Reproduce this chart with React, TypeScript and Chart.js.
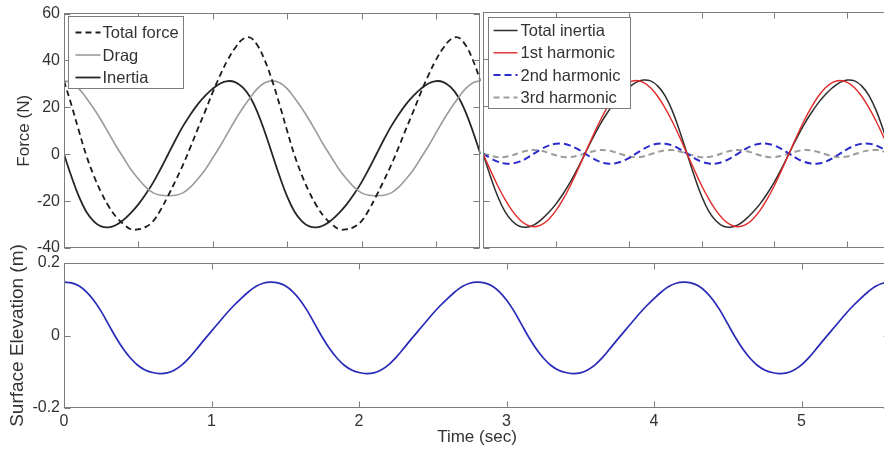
import React, { useEffect, useRef } from "react";
import { Chart, registerables } from "chart.js";

Chart.register(...registerables);

// ---------- DATA ----------
const timeTop = [
  0, 0.05, 0.1, 0.15, 0.2, 0.25, 0.3, 0.35, 0.4, 0.45, 0.5, 0.55, 0.6, 0.65, 0.7, 0.75, 0.8, 0.85, 0.9, 0.95,
  1, 1.05, 1.1, 1.15, 1.2, 1.25, 1.3, 1.35, 1.4, 1.45, 1.5, 1.55, 1.6, 1.65, 1.7, 1.75, 1.8, 1.85, 1.9, 1.95,
  2, 2.05, 2.1, 2.15, 2.2, 2.25, 2.3, 2.35, 2.4, 2.45, 2.5, 2.55, 2.6, 2.65, 2.7, 2.75, 2.8,
];

const totalForce = [
  31.3, 21, 10, -0.5, -9.1, -16.3, -22.2, -26.7, -29.8, -32, -32, -31, -28.5, -23.7, -17.7, -11.3, -4.5, 3, 10.9, 18.5,
  26.5, 33.7, 40.2, 45.3, 49, 49.8, 46.5, 40, 31.3,
  21, 10, -0.5, -9.1, -16.3, -22.2, -26.7, -29.8, -32, -32, -31, -28.5, -23.7, -17.7, -11.3, -4.5, 3, 10.9, 18.5,
  26.5, 33.7, 40.2, 45.3, 49, 49.8, 46.5, 40, 31.3,
];

const drag = [
  31.3, 30.5, 28, 24, 19.5, 14.5, 9, 3.5, -1.5, -6.5, -10.5, -14, -16.5, -17.5, -17.7, -17.5, -16.5, -14, -10.5, -6.5,
  -1.5, 3.5, 9, 14.5, 19.5, 24, 28, 30.5, 31.3,
  30.5, 28, 24, 19.5, 14.5, 9, 3.5, -1.5, -6.5, -10.5, -14, -16.5, -17.5, -17.7, -17.5, -16.5, -14, -10.5, -6.5,
  -1.5, 3.5, 9, 14.5, 19.5, 24, 28, 30.5, 31.3,
];

const inertia = [
  0, -9.5, -18, -24.5, -28.6, -30.8, -31.2, -30.2, -28, -25, -21.4, -17, -12, -6.2, 0, 6.2, 12, 17, 21.4, 25,
  28, 30.2, 31.2, 30.8, 28.6, 24.5, 18, 9.5, 0,
  -9.5, -18, -24.5, -28.6, -30.8, -31.2, -30.2, -28, -25, -21.4, -17, -12, -6.2, 0, 6.2, 12, 17, 21.4, 25,
  28, 30.2, 31.2, 30.8, 28.6, 24.5, 18, 9.5, 0,
];

const totalInertia = [
  0, -9.5, -18, -24.5, -28.6, -30.8, -31.2, -30.2, -28, -25, -21.4, -17, -12, -6.2, 0, 6.2, 12, 17, 21.4, 25,
  28, 30.2, 31.2, 30.8, 28.6, 24.5, 18, 9.5, 0,
  -9.5, -18, -24.5, -28.6, -30.8, -31.2, -30.2, -28, -25, -21.4, -17, -12, -6.2, 0, 6.2, 12, 17, 21.4, 25,
  28, 30.2, 31.2, 30.8, 28.6, 24.5, 18, 9.5, 0,
];

const harmonic1 = [
  0, -6.9, -13.5, -19.3, -24.2, -27.9, -30.2, -31, -30.2, -27.9, -24.2, -19.3, -13.5, -6.9, 0, 6.9, 13.5, 19.3, 24.2, 27.9,
  30.2, 31, 30.2, 27.9, 24.2, 19.3, 13.5, 6.9, 0,
  -6.9, -13.5, -19.3, -24.2, -27.9, -30.2, -31, -30.2, -27.9, -24.2, -19.3, -13.5, -6.9, 0, 6.9, 13.5, 19.3, 24.2, 27.9,
  30.2, 31, 30.2, 27.9, 24.2, 19.3, 13.5, 6.9, 0,
];

const harmonic2 = [
  0, -1.9, -3.4, -4.2, -4.2, -3.4, -1.9, 0, 1.9, 3.4, 4.2, 4.2, 3.4, 1.9, 0, -1.9, -3.4, -4.2, -4.2, -3.4,
  -1.9, 0, 1.9, 3.4, 4.2, 4.2, 3.4, 1.9, 0,
  -1.9, -3.4, -4.2, -4.2, -3.4, -1.9, 0, 1.9, 3.4, 4.2, 4.2, 3.4, 1.9, 0, -1.9, -3.4, -4.2, -4.2, -3.4,
  -1.9, 0, 1.9, 3.4, 4.2, 4.2, 3.4, 1.9, 0,
];

const harmonic3 = [
  0, -0.9, -1.5, -1.4, -0.7, 0.3, 1.2, 1.5, 1.2, 0.3, -0.7, -1.4, -1.5, -0.9, 0, 0.9, 1.5, 1.4, 0.7, -0.3,
  -1.2, -1.5, -1.2, -0.3, 0.7, 1.4, 1.5, 0.9, 0,
  -0.9, -1.5, -1.4, -0.7, 0.3, 1.2, 1.5, 1.2, 0.3, -0.7, -1.4, -1.5, -0.9, 0, 0.9, 1.5, 1.4, 0.7, -0.3,
  -1.2, -1.5, -1.2, -0.3, 0.7, 1.4, 1.5, 0.9, 0,
];

const timeBottom = [
  0, 0.05, 0.1, 0.15, 0.2, 0.25, 0.3, 0.35, 0.4, 0.45, 0.5, 0.55, 0.6, 0.65, 0.7, 0.75, 0.8, 0.85, 0.9, 0.95,
  1, 1.05, 1.1, 1.15, 1.2, 1.25, 1.3, 1.35, 1.4, 1.45, 1.5, 1.55, 1.6, 1.65, 1.7, 1.75, 1.8, 1.85, 1.9, 1.95,
  2, 2.05, 2.1, 2.15, 2.2, 2.25, 2.3, 2.35, 2.4, 2.45, 2.5, 2.55, 2.6, 2.65, 2.7, 2.75, 2.8, 2.85, 2.9, 2.95,
  3, 3.05, 3.1, 3.15, 3.2, 3.25, 3.3, 3.35, 3.4, 3.45, 3.5, 3.55, 3.6, 3.65, 3.7, 3.75, 3.8, 3.85, 3.9, 3.95,
  4, 4.05, 4.1, 4.15, 4.2, 4.25, 4.3, 4.35, 4.4, 4.45, 4.5, 4.55, 4.6, 4.65, 4.7, 4.75, 4.8, 4.85, 4.9, 4.95,
  5, 5.05, 5.1, 5.15, 5.2, 5.25, 5.3, 5.35, 5.4, 5.45, 5.5, 5.55, 5.6,
];

const surfaceElevation = [
  0.147, 0.145, 0.137, 0.121, 0.098, 0.068, 0.032, -0.004, -0.036, -0.062, -0.082, -0.095, -0.102, -0.105, -0.103, -0.095,
  -0.081, -0.061, -0.037, -0.012, 0.012, 0.036, 0.06, 0.082, 0.102, 0.12, 0.135, 0.144, 0.147,
  0.145, 0.137, 0.121, 0.098, 0.068, 0.032, -0.004, -0.036, -0.062, -0.082, -0.095, -0.102, -0.105, -0.103, -0.095,
  -0.081, -0.061, -0.037, -0.012, 0.012, 0.036, 0.06, 0.082, 0.102, 0.12, 0.135, 0.144, 0.147,
  0.145, 0.137, 0.121, 0.098, 0.068, 0.032, -0.004, -0.036, -0.062, -0.082, -0.095, -0.102, -0.105, -0.103, -0.095,
  -0.081, -0.061, -0.037, -0.012, 0.012, 0.036, 0.06, 0.082, 0.102, 0.12, 0.135, 0.144, 0.147,
  0.145, 0.137, 0.121, 0.098, 0.068, 0.032, -0.004, -0.036, -0.062, -0.082, -0.095, -0.102, -0.105, -0.103, -0.095,
  -0.081, -0.061, -0.037, -0.012, 0.012, 0.036, 0.06, 0.082, 0.102, 0.12, 0.135, 0.144, 0.147,
];

const forceTicks = [-40, -20, 0, 20, 40, 60];
const topTimeTicks = [0.5, 1, 1.5, 2, 2.5];
const bottomTimeTicks = [0, 1, 2, 3, 4, 5];
const elevationTicks = [-0.2, 0, 0.2];

// ---------- STYLE ----------
const FONT = '"Liberation Sans", Arial, Helvetica, sans-serif';
const TEXT = "#333333";
const FRAME = "#7d7d7d";

Chart.defaults.font.family = FONT;

const framePlugin = {
  id: "frameTicks",
  afterDatasetsDraw(chart: any, _args: any, opts: any) {
    const { ctx, chartArea: a, scales } = chart;
    const L = Math.floor(a.left) + 0.5;
    const R = Math.floor(a.right) - 0.5;
    const T = Math.floor(a.top) + 0.5;
    const B = Math.floor(a.bottom) - 0.5;
    const len = opts.len || 6;
    ctx.save();
    ctx.strokeStyle = opts.color || FRAME;
    ctx.lineWidth = 1;
    ctx.setLineDash([]);
    ctx.beginPath();
    (opts.xTicks || []).forEach((v: number) => {
      const px = Math.round(scales.x.getPixelForValue(v)) + 0.5;
      ctx.moveTo(px, B);
      ctx.lineTo(px, B - len);
      ctx.moveTo(px, T);
      ctx.lineTo(px, T + len);
    });
    (opts.yTicks || []).forEach((v: number) => {
      const py = Math.round(scales.y.getPixelForValue(v)) + 0.5;
      ctx.moveTo(L, py);
      ctx.lineTo(L + len, py);
      ctx.moveTo(R, py);
      ctx.lineTo(R - len, py);
    });
    ctx.stroke();
    ctx.strokeRect(L, T, R - L, B - T);
    ctx.restore();
  },
};

const boxLegendPlugin = {
  id: "boxLegend",
  afterDatasetsDraw(chart: any, _args: any, o: any) {
    if (!o || !o.show) return;
    const { ctx, chartArea: a } = chart;
    const x0 = Math.floor(a.left + o.dx) + 0.5;
    const y0 = Math.floor(a.top + o.dy) + 0.5;
    ctx.save();
    ctx.fillStyle = "#ffffff";
    ctx.fillRect(x0, y0, o.w, o.h);
    ctx.strokeStyle = FRAME;
    ctx.lineWidth = 1;
    ctx.setLineDash([]);
    ctx.strokeRect(x0, y0, o.w, o.h);
    chart.data.datasets.forEach((ds: any, i: number) => {
      const y = y0 + o.first + i * o.gap;
      ctx.strokeStyle = ds.borderColor;
      ctx.lineWidth = ds.borderWidth;
      ctx.setLineDash(ds.borderDash || []);
      ctx.beginPath();
      ctx.moveTo(x0 + o.l0, y);
      ctx.lineTo(x0 + o.l1, y);
      ctx.stroke();
      ctx.setLineDash([]);
      ctx.fillStyle = TEXT;
      ctx.font = `${o.fontSize}px ${FONT}`;
      ctx.textBaseline = "middle";
      ctx.textAlign = "left";
      ctx.fillText(ds.label, x0 + o.tx, y + 1);
    });
    ctx.restore();
  },
};

const line = (label: string, data: number[], color: string, width: number, dash?: number[], order = 0) => ({
  label,
  data,
  borderColor: color,
  backgroundColor: color,
  borderWidth: width,
  borderDash: dash || [],
  pointRadius: 0,
  tension: 0.4,
  fill: false,
  order,
});

const hiddenX = (max: number) => ({
  type: "linear" as const,
  min: 0,
  max,
  afterFit: (s: any) => {
    s.height = 14;
  },
  ticks: { display: false },
  grid: { display: false, drawTicks: false },
  border: { display: false },
});

function makeTopLeft(canvas: HTMLCanvasElement) {
  return new Chart(canvas, {
    type: "line",
    data: {
      labels: timeTop,
      datasets: [
        line("Total force", totalForce, "#1c1c1c", 1.8, [6, 4]),
        line("Drag", drag, "#9b9b9b", 1.6),
        line("Inertia", inertia, "#262626", 1.8),
      ],
    },
    options: {
      responsive: false,
      animation: false,
      events: [],
      layout: { padding: { top: 12, left: 0, right: 3.5, bottom: 0 } },
      plugins: {
        legend: { display: false },
        tooltip: { enabled: false },
        frameTicks: { xTicks: topTimeTicks, yTicks: forceTicks, len: 6 },
        boxLegend: { show: true, dx: 4, dy: 3, w: 115, h: 72, first: 16, gap: 22.5, l0: 7, l1: 32, tx: 34, fontSize: 16.5 },
      } as any,
      scales: {
        x: hiddenX(2.8),
        y: {
          min: -40,
          max: 60,
          afterFit: (s: any) => {
            s.width = 64;
          },
          afterBuildTicks: (s: any) => {
            s.ticks = forceTicks.map((v) => ({ value: v }));
          },
          ticks: { color: TEXT, font: { size: 16 }, padding: 4, callback: (v: any) => String(v) },
          grid: { display: false, drawTicks: false },
          border: { display: false },
          title: { display: true, text: "Force (N)", color: TEXT, font: { size: 17 }, padding: { top: 14, bottom: 0 } },
        },
      },
    } as any,
    plugins: [framePlugin, boxLegendPlugin],
  });
}

function makeTopRight(canvas: HTMLCanvasElement) {
  return new Chart(canvas, {
    type: "line",
    data: {
      labels: timeTop,
      datasets: [
        line("Total inertia", totalInertia, "#2e2e2e", 1.5, undefined, 1),
        line("1st harmonic", harmonic1, "#e12a2a", 1.4, undefined, 0),
        line("2nd harmonic", harmonic2, "#2b2bcc", 2, [7, 4], 2),
        line("3rd harmonic", harmonic3, "#9c9c9c", 2, [6, 4], 3),
      ],
    },
    options: {
      responsive: false,
      animation: false,
      events: [],
      layout: { padding: { top: 12, left: 13, right: 9, bottom: 0 } },
      plugins: {
        legend: { display: false },
        tooltip: { enabled: false },
        frameTicks: { xTicks: topTimeTicks, yTicks: forceTicks, len: 6 },
        boxLegend: { show: true, dx: 5, dy: 5, w: 142, h: 91, first: 13, gap: 22.3, l0: 5, l1: 29, tx: 32, fontSize: 16.5 },
      } as any,
      scales: {
        x: hiddenX(2.8),
        y: { display: false, min: -40, max: 60 },
      },
    } as any,
    plugins: [framePlugin, boxLegendPlugin],
  });
}

function makeBottom(canvas: HTMLCanvasElement) {
  return new Chart(canvas, {
    type: "line",
    data: {
      labels: timeBottom,
      datasets: [line("Surface elevation", surfaceElevation, "#2a2ab8", 1.7)],
    },
    options: {
      responsive: false,
      animation: false,
      events: [],
      layout: { padding: { top: 33, left: 0, right: 10, bottom: 0 } },
      plugins: {
        legend: { display: false },
        tooltip: { enabled: false },
        frameTicks: { xTicks: bottomTimeTicks, yTicks: elevationTicks, len: 6 },
        boxLegend: { show: false },
      } as any,
      scales: {
        x: {
          type: "linear",
          min: 0,
          max: 5.6,
          afterFit: (s: any) => {
            s.height = 42;
          },
          afterBuildTicks: (s: any) => {
            s.ticks = bottomTimeTicks.map((v) => ({ value: v }));
          },
          ticks: { color: TEXT, font: { size: 16 }, padding: 4, maxRotation: 0, callback: (v: any) => String(v) },
          grid: { display: false, drawTicks: false },
          border: { display: false },
          title: { display: true, text: "Time (sec)", color: TEXT, font: { size: 17 }, padding: { top: 0, bottom: 2 } },
        },
        y: {
          min: -0.2,
          max: 0.2,
          afterFit: (s: any) => {
            s.width = 64;
          },
          afterBuildTicks: (s: any) => {
            s.ticks = elevationTicks.map((v) => ({ value: v }));
          },
          ticks: { color: TEXT, font: { size: 16 }, padding: 4, callback: (v: any) => (Math.abs(v) < 1e-9 ? "0" : String(v)) },
          grid: { display: false, drawTicks: false },
          border: { display: false },
          title: { display: true, text: "Surface Elevation (m)", color: TEXT, font: { size: 19 }, padding: { top: 6, bottom: 0 } },
        },
      },
    } as any,
    plugins: [framePlugin, boxLegendPlugin],
  });
}

export default function App() {
  const refA = useRef<HTMLCanvasElement>(null);
  const refB = useRef<HTMLCanvasElement>(null);
  const refC = useRef<HTMLCanvasElement>(null);

  useEffect(() => {
    const charts = [makeTopLeft(refA.current!), makeTopRight(refB.current!), makeBottom(refC.current!)];
    return () => charts.forEach((c) => c.destroy());
  }, []);

  return (
    <div
      style={{
        position: "fixed",
        left: 0,
        top: 0,
        width: 884,
        height: 450,
        overflow: "hidden",
        background: "#ffffff",
      }}
    >
      <canvas ref={refC} width={900} height={220} style={{ position: "absolute", left: 0, top: 230, width: 900, height: 220 }} />
      <canvas ref={refA} width={484} height={262} style={{ position: "absolute", left: 0, top: 0, width: 484, height: 262 }} />
      <canvas ref={refB} width={430} height={262} style={{ position: "absolute", left: 470, top: 0, width: 430, height: 262 }} />
    </div>
  );
}
